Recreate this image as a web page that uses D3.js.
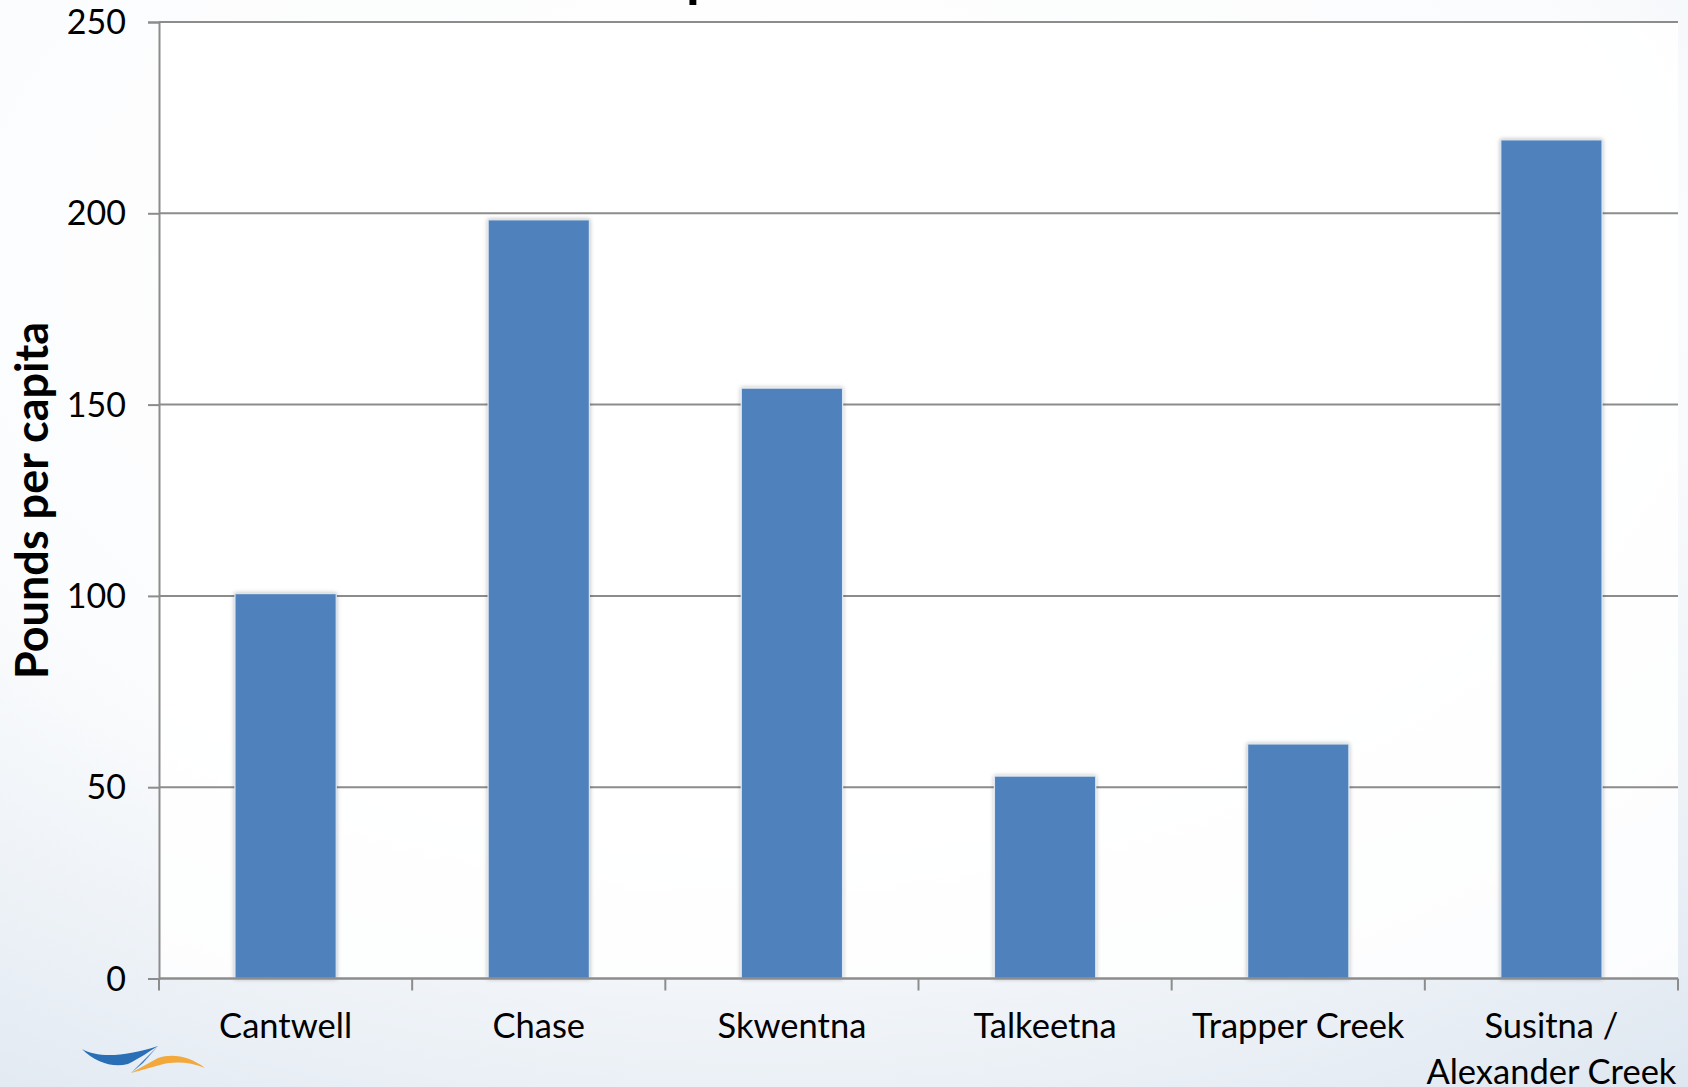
<!DOCTYPE html>
<html>
<head>
<meta charset="utf-8">
<script src="https://cdn.jsdelivr.net/npm/d3@7"></script>
<style>
  html, body { margin: 0; padding: 0; overflow: hidden; }
  body { width: 1688px; height: 1087px; }
  svg { display: block; }
  text { font-family: Lato, "Open Sans", sans-serif; fill: #000; }
</style>
</head>
<body>
<svg id="chart" width="1688" height="1087"></svg>
<script>
const categories = ["Cantwell", "Chase", "Skwentna", "Talkeetna", "Trapper Creek", "Susitna / Alexander Creek"];
const categoryLines = [["Cantwell"], ["Chase"], ["Skwentna"], ["Talkeetna"], ["Trapper Creek"], ["Susitna /", "Alexander Creek"]];
const values = [100.6, 198.3, 154.3, 52.9, 61.3, 219.2];
const yTicks = [0, 50, 100, 150, 200, 250];
const yTitle = "Pounds per capita";

const W = 1688, H = 1087;
const svg = d3.select("#chart");
const defs = svg.append("defs");

// background gradient
const rg = defs.append("radialGradient").attr("id", "bg")
  .attr("cx", "0.45").attr("cy", "0.25").attr("r", "0.95");
rg.append("stop").attr("offset", "0").attr("stop-color", "#ffffff");
rg.append("stop").attr("offset", "0.55").attr("stop-color", "#fbfcfd");
rg.append("stop").attr("offset", "1").attr("stop-color", "#dde6f0");
svg.append("rect").attr("width", W).attr("height", H).attr("fill", "url(#bg)");

const shadow = defs.append("filter").attr("id", "shadow")
  .attr("x", "-20%").attr("y", "-5%").attr("width", "140%").attr("height", "110%");
shadow.append("feDropShadow").attr("dx", 0).attr("dy", 0).attr("stdDeviation", 2.2)
  .attr("flood-color", "#000").attr("flood-opacity", 0.28);

const x0 = 159, x1 = 1678, yBottom = 978.5, yTop = 22;
const x = d3.scaleBand().domain(categories).range([x0, x1]).padding(0);
const y = d3.scaleLinear().domain([0, 250]).range([yBottom, yTop]);

// plot area
svg.append("rect").attr("x", x0).attr("y", yTop).attr("width", x1 - x0).attr("height", yBottom - yTop)
  .attr("fill", "#ffffff").attr("opacity", 0.85);

// gridlines
svg.append("g").selectAll("line").data(yTicks.filter(d => d > 0)).join("line")
  .attr("x1", x0).attr("x2", x1)
  .attr("y1", d => y(d)).attr("y2", d => y(d))
  .attr("stroke", "#8c8c8c").attr("stroke-width", 2);

// partial title (cut off at top of frame)
svg.append("text").attr("x", 686).attr("y", -4)
  .attr("font-size", 56).attr("font-weight", "bold").text("p");

// bars
const barW = x.bandwidth() * 0.4;
svg.append("g").selectAll("rect").data(values).join("rect")
  .attr("x", (d, i) => x(categories[i]) + (x.bandwidth() - barW) / 2)
  .attr("y", d => y(d))
  .attr("width", barW)
  .attr("height", d => y(0) - y(d))
  .attr("fill", "#4f81bd")
  .attr("stroke", "#dbe5f1").attr("stroke-width", 1.2)
  .attr("filter", "url(#shadow)");

// y axis
const yAxis = d3.axisLeft(y).tickValues(yTicks).tickSize(11).tickPadding(22).tickFormat(d3.format("d"));
const gy = svg.append("g").attr("transform", `translate(${x0},0)`).call(yAxis);
gy.select(".domain").attr("stroke", "#8c8c8c").attr("stroke-width", 2);
gy.selectAll(".tick line").attr("stroke", "#8c8c8c").attr("stroke-width", 2);
gy.selectAll(".tick text").attr("font-size", 34).attr("font-family", "Lato").attr("fill", "#000").attr("dy", "0.34em");

// x axis (ticks at category boundaries)
const boundaries = categories.map(c => x(c)).concat([x1]);
svg.append("line").attr("x1", x0).attr("x2", x1).attr("y1", y(0)).attr("y2", y(0))
  .attr("stroke", "#8c8c8c").attr("stroke-width", 2.5);
svg.append("g").selectAll("line").data(boundaries).join("line")
  .attr("x1", d => d).attr("x2", d => d).attr("y1", y(0)).attr("y2", y(0) + 12)
  .attr("stroke", "#8c8c8c").attr("stroke-width", 2);

const xl = svg.append("g").selectAll("text").data(categories).join("text")
  .attr("x", d => x(d) + x.bandwidth() / 2)
  .attr("y", 1038)
  .attr("text-anchor", "middle").attr("font-size", 34.5);
xl.each(function(d, i) {
  const t = d3.select(this);
  categoryLines[i].forEach((ln, j) => {
    t.append("tspan").attr("x", x(d) + x.bandwidth() / 2).attr("dy", j === 0 ? 0 : 46).text(ln);
  });
});

// y title
svg.append("text")
  .attr("transform", `translate(48,${(323 + 678) / 2}) rotate(-90)`)
  .attr("text-anchor", "middle").attr("font-size", 45).attr("font-weight", "bold")
  .text(yTitle);

// logo swoosh
const logo = svg.append("g");
logo.append("path")
  .attr("d", "M82,1049 C98,1058 124,1057 158,1046 C150,1051 140,1058 128,1064 C112,1068 95,1062 82,1049 Z")
  .attr("fill", "#2a6fb6");
logo.append("path")
  .attr("d", "M158,1046 L131,1073 L143,1063 Z")
  .attr("fill", "#3a7cc2");
logo.append("path")
  .attr("d", "M131,1073 L158,1058 C174,1053 190,1057 205,1068 C189,1062 175,1061 160,1065 Z")
  .attr("fill", "#f2a83a");
</script>
</body>
</html>
